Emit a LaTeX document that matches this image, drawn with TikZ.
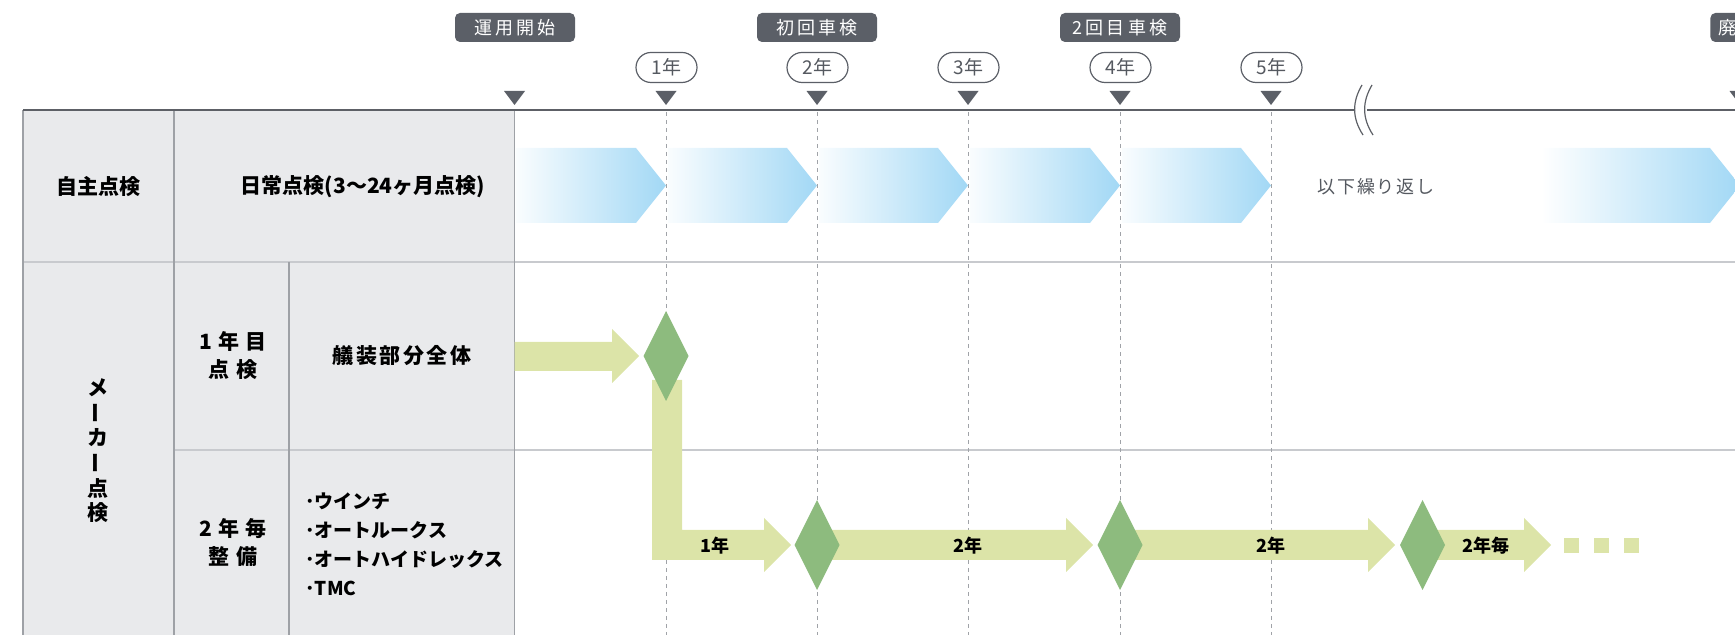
\documentclass[tikz,border=0pt]{standalone}
\usepackage{fontspec}
\setmainfont{Noto Sans CJK JP}
\newfontfamily\jpwide{Noto Sans CJK JP}[LetterSpace=30]
\newfontfamily\jpbadge{Noto Sans CJK JP}[LetterSpace=18]
\newfontfamily\jpmid{Noto Sans CJK JP}[LetterSpace=12]
\newfontfamily\jpnote{Noto Sans CJK JP}[LetterSpace=10]
\usetikzlibrary{positioning}
\definecolor{badge}{RGB}{91,95,103}
\definecolor{rule}{RGB}{93,96,102}
\definecolor{cellfill}{RGB}{233,234,236}
\definecolor{cellline}{RGB}{158,161,166}
\definecolor{gridline}{RGB}{200,202,206}
\definecolor{dashline}{RGB}{160,163,168}
\definecolor{sky}{RGB}{162,216,245}
\definecolor{leaf}{RGB}{220,228,168}
\definecolor{moss}{RGB}{141,187,126}
\definecolor{graytext}{RGB}{85,89,96}

\begin{document}
\begin{tikzpicture}[x=0.5pt,y=-0.5pt,
  badgebox/.style={fill=badge,text=white,rounded corners=2.5pt,minimum width=60pt,minimum height=14.5pt,inner sep=0pt,font=\jpbadge\fontsize{9}{10}\selectfont},
  yearpill/.style={draw=badge,line width=0.6pt,fill=white,rounded corners=7.5pt,minimum width=30.5pt,minimum height=15pt,inner sep=0pt,text=graytext,font=\fontsize{9.5}{10}\selectfont},
  cell/.style={align=center,inner sep=0pt,font=\bfseries\fontsize{10.5}{12.5}\selectfont},
  steplbl/.style={inner sep=0pt,font=\bfseries\fontsize{9}{10}\selectfont}]
  \useasboundingbox (0,0) rectangle (1735,635);
  \fill[cellfill] (23,110) rectangle (514.5,640);
  \draw[gridline,line width=0.6pt] (23,262) -- (1740,262) (174,450) -- (1740,450);
  \draw[cellline,line width=0.7pt] (23,640) -- (23,110) (174,110) -- (174,640) (289,262) -- (289,640) (514.5,110) -- (514.5,640);
  \foreach \x in {666,817,968,1120,1271}
    \draw[dashline,line width=0.5pt,dash pattern=on 2pt off 2pt] (\x,112) -- (\x,640);
  \foreach \a/\b in {514.5/666,666/817,817/968,968/1120,1120/1271}
    \shade[left color=sky!6,right color=sky] (\a+2,148) -- (\b-30,148) -- (\b,185.5) -- (\b-30,223) -- (\a+2,223) -- cycle;
  \shade[left color=white,right color=sky] (1541,148) -- (1710,148) -- (1740,185.5) -- (1710,223) -- (1541,223) -- cycle;
  \fill[leaf] (514.5,342) -- (612,342) -- (612,329) -- (639,356) -- (612,383) -- (612,371) -- (514.5,371) -- cycle;
  \fill[leaf] (652,380) -- (682,380) -- (682,530) -- (764,530) -- (764,518) -- (791,545) -- (764,572) -- (764,560) -- (652,560) -- cycle;
  \foreach \a/\b in {830/1066,1130/1368,1435/1524}
    \fill[leaf] (\a,530) -- (\b,530) -- (\b,518) -- (\b+27,545) -- (\b,572) -- (\b,560) -- (\a,560) -- cycle;
  \foreach \x in {1563.5,1593.5,1624}
    \fill[leaf] (\x,538) rectangle (\x+15,553);
  \foreach \x/\y in {666/356,817/545,1120/545,1422.5/545}
    \fill[moss] (\x,\y-45) -- (\x+22.5,\y) -- (\x,\y+45) -- (\x-22.5,\y) -- cycle;
  \draw[rule,line width=0.75pt] (23,110) -- (1357,110) (1367,110) -- (1740,110);
  \fill[white] (1362,85) .. controls (1352,102) and (1352,118) .. (1363,135) -- (1373,135) .. controls (1362,118) and (1362,102) .. (1372,85) -- cycle;
  \draw[rule,line width=0.6pt] (1362,85) .. controls (1352,102) and (1352,118) .. (1363,135) (1372,85) .. controls (1362,102) and (1362,118) .. (1373,135);
  \foreach \x in {514.5,666,817,968,1120,1271,1740}
    \fill[badge] (\x-10.5,91) -- (\x+10.5,91) -- (\x,105) -- cycle;
  \foreach \x/\yy [count=\i] in {666/1,817/2,968/3,1120/4,1271/5}
    \node[yearpill] (yr\i) at (\x+0.5,67.5) {\yy{}年};
  \node[badgebox] (start) at (515,27.5) {運用開始};
  \node[badgebox] (shaken1) at (817,27.5) {初回車検};
  \node[badgebox] (shaken2) at (1120,27.5) {2回目車検};
  \node[badgebox,minimum width=0pt,inner xsep=4pt,anchor=west] (scrap) at (1710,27.5) {廃};
  \node[cell] (self) at (98.5,187) {自主点検};
  \node[cell] (daily) at (363,187) {日常点検(3〜24ヶ月点検)};
  \node[inner sep=0pt,text=graytext,font=\jpnote\fontsize{9}{10}\selectfont] (repeat) at (1376,187) {以下繰り返し};
  \foreach \c/\r [count=\i] in {メ/0,ー/90,カ/0,ー/90,点/0,検/0}
    \node[cell,rotate=\r] (maker\i) at (98,363+25*\i) {\c};
  \node[cell,font=\jpwide\bfseries\fontsize{10.5}{14}\selectfont] (first) at (233,356) {1年目\\点検};
  \node[cell,font=\jpmid\bfseries\fontsize{10.5}{12.5}\selectfont] (outfit) at (402,356) {艤装部分全体};
  \node[cell,font=\jpwide\bfseries\fontsize{10.5}{14}\selectfont] (every) at (233,543) {2年毎\\整備};
  \node[cell,align=left,anchor=west,font=\bfseries\fontsize{9.5}{14.5}\selectfont] (parts) at (305,544) {･ウインチ\\･オートルークス\\･オートハイドレックス\\･TMC};
  \node[steplbl] (gap1) at (715,546) {1年};
  \node[steplbl] (gap2) at (968,546) {2年};
  \node[steplbl] (gap3) at (1271,546) {2年};
  \node[steplbl] (gap4) at (1486,546) {2年毎};
\end{tikzpicture}
\end{document}
